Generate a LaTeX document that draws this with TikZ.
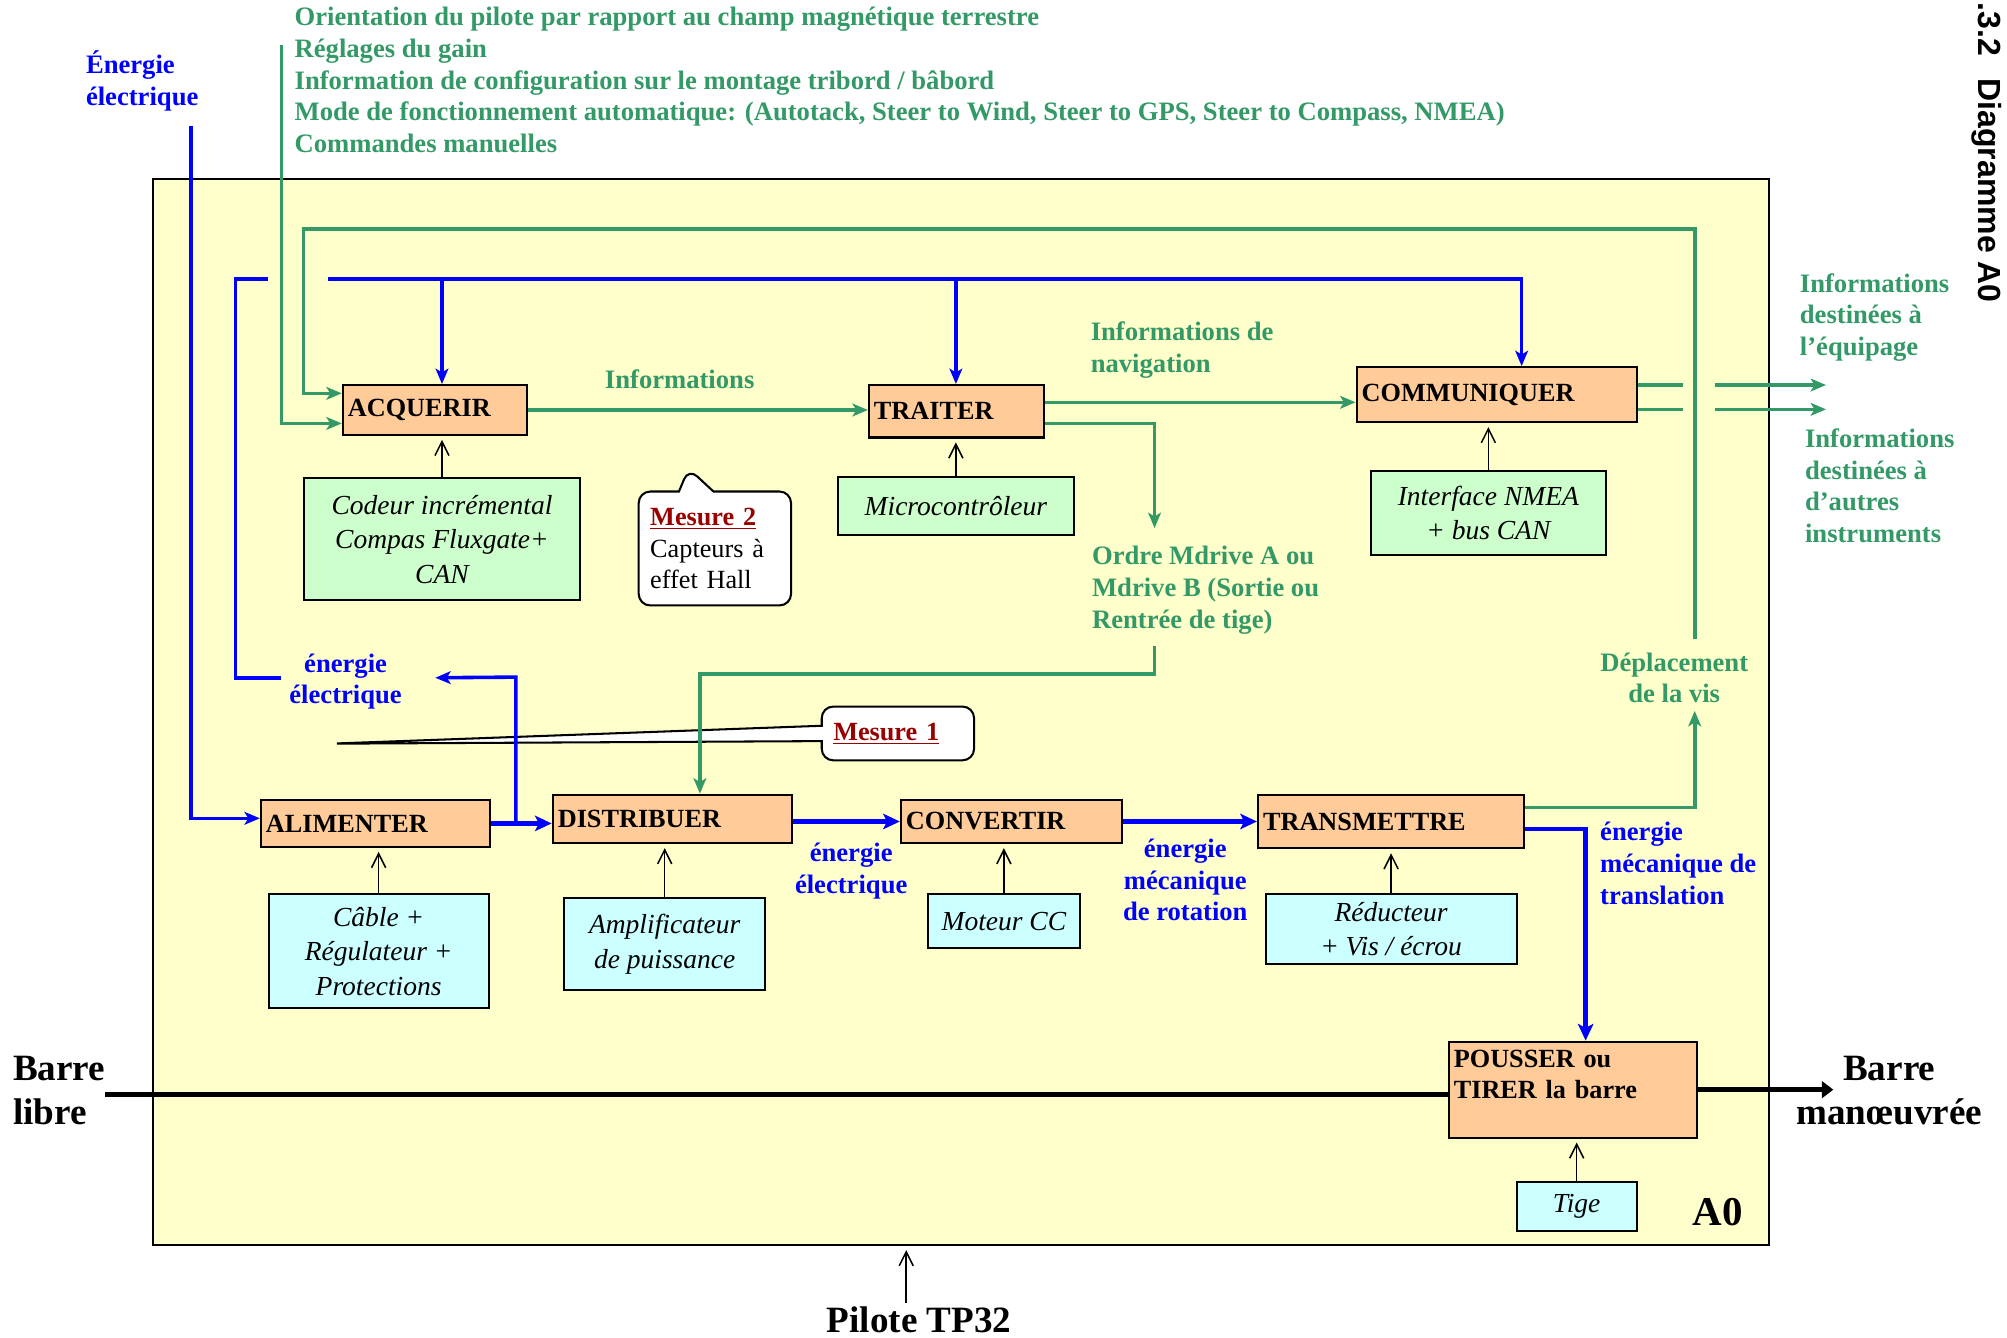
\documentclass[tikz,border=0pt]{standalone}
\usepackage{fontspec}
\setmainfont{Liberation Serif}
\setsansfont{Liberation Sans}
\usetikzlibrary{arrows.meta,shapes.callouts}

\definecolor{vertinfo}{RGB}{51,153,102}
\definecolor{peche}{RGB}{255,204,153}
\definecolor{vertpale}{RGB}{204,255,204}
\definecolor{cyanpale}{RGB}{204,255,255}
\definecolor{jaunepale}{RGB}{255,255,204}
\definecolor{rougefonce}{RGB}{153,0,0}

\begin{document}
\begin{tikzpicture}[x=1pt,y=-1pt,
  fonction/.style={draw,line width=1.6pt,fill=peche,anchor=north west,align=left,
    inner xsep=4pt,inner ysep=0pt,font=\fontsize{20.5}{24}\selectfont\bfseries},
  moyen/.style={draw,line width=1.6pt,anchor=north west,align=center,inner sep=0pt,
    font=\fontsize{21.5}{27}\selectfont\itshape},
  etiq/.style={align=left,inner sep=0pt,font=\fontsize{20.8}{24.75}\selectfont\bfseries},
  grand/.style={align=left,inner sep=0pt,font=\fontsize{29}{34}\selectfont\bfseries},
  info/.style={draw=vertinfo,line width=2.8pt,-{Stealth[length=12pt,width=10pt,inset=3pt]}},
  elec/.style={draw=blue,line width=2.8pt,-{Stealth[length=12pt,width=10pt,inset=3pt]}},
  puiss/.style={draw=blue,line width=3.5pt,-{Stealth[length=13pt,width=12pt,inset=3pt]}},
  support/.style={line width=1.2pt,-{Straight Barb[length=11pt,width=11pt]},shorten >=3pt},
  mesure/.style={rectangle callout,draw,line width=1.6pt,fill=white,rounded corners=9pt,
    align=left,font=\fontsize{20.5}{24.5}\selectfont}]

  \useasboundingbox (0,0) rectangle (1568,1045);

  \node[draw,line width=1.6pt,fill=jaunepale,anchor=north west,inner sep=0pt,
    minimum width=1262pt,minimum height=833pt] (a0) at (119,139) {};

  % entrees et sorties du diagramme
  \node[etiq,text=vertinfo,anchor=west] (cmd) at (230,62.5) {Orientation du pilote par rapport au champ magnétique terrestre\\Réglages du gain\\Information de configuration sur le montage tribord / bâbord\\Mode de fonctionnement automatique: (Autotack, Steer to Wind, Steer to GPS, Steer to Compass, NMEA)\\Commandes manuelles};
  \node[etiq,text=blue,anchor=west] (eel) at (67,63) {Énergie\\électrique};
  \node[etiq,text=vertinfo,anchor=west] (equip) at (1406,248) {Informations\\destinées à\\l’équipage};
  \node[etiq,text=vertinfo,anchor=west] (autres) at (1410,379.5) {Informations\\destinées à\\d’autres\\instruments};
  \node[grand,anchor=west] (libre) at (10,852) {Barre\\libre};
  \node[grand,align=center] (manoeuvre) at (1476,852) {Barre\\manœuvrée};
  \node[grand] (pilote) at (718,1031) {Pilote TP32};
  \node[font=\fontsize{32}{36}\selectfont\bfseries] (nom) at (1342,947) {A0};
  \node[rotate=-90,anchor=base west,inner sep=0pt,
    font=\sffamily\bfseries\fontsize{25}{30}\selectfont] (titre) at (1546,2) {.3.2\hspace{0.7em}Diagramme A0};

  % etiquettes des flux
  \node[etiq,text=vertinfo] (inf) at (531,296) {Informations};
  \node[etiq,text=vertinfo,anchor=west] (nav) at (852,273.5) {Informations de\\navigation};
  \node[etiq,text=vertinfo,anchor=west] (ordre) at (853,461) {Ordre Mdrive A ou\\Mdrive B (Sortie ou\\Rentrée de tige)};
  \node[etiq,text=vertinfo,align=center] (dep) at (1308,529.5) {Déplacement\\de la vis};
  \node[etiq,text=blue,align=center] (eel2) at (270,532.5) {énergie\\électrique};
  \node[etiq,text=blue,align=center] (eel3) at (665,680.5) {énergie\\électrique};
  \node[etiq,text=blue,align=center] (rot) at (926,687.5) {énergie\\mécanique\\de rotation};
  \node[etiq,text=blue,anchor=west] (trans) at (1250,674.5) {énergie\\mécanique de\\translation};

  % fonctions
  \node[fonction,text width=136pt,minimum height=39pt] (acq) at (267,300) {ACQUERIR};
  \node[fonction,text width=129pt,minimum height=41pt] (trt) at (678,300) {TRAITER};
  \node[fonction,text width=211pt,minimum height=43pt] (com) at (1059,286) {COMMUNIQUER};
  \node[fonction,text width=171pt,minimum height=37pt] (ali) at (203,624) {ALIMENTER};
  \node[fonction,text width=179pt,minimum height=38pt] (dis) at (431,620) {DISTRIBUER};
  \node[fonction,text width=165pt,minimum height=34pt] (cnv) at (703,624) {CONVERTIR};
  \node[fonction,text width=200pt,minimum height=42pt] (trm) at (982,620) {TRANSMETTRE};
  \node[fonction,text width=186pt,minimum height=75pt] (pou) at (1131,813) {POUSSER ou\\TIRER la barre\\\mbox{}};

  % supports
  \node[moyen,fill=vertpale,minimum width=215pt,minimum height=95pt] (codeur) at (237,373) {Codeur incrémental\\Compas Fluxgate+\\CAN};
  \node[moyen,fill=vertpale,minimum width=184pt,minimum height=45pt] (micro) at (654,372) {Microcontrôleur};
  \node[moyen,fill=vertpale,minimum width=184pt,minimum height=66pt] (nmea) at (1070,367) {Interface NMEA\\+ bus CAN};
  \node[moyen,fill=cyanpale,minimum width=172pt,minimum height=89pt] (cable) at (209,698) {Câble +\\Régulateur +\\Protections};
  \node[moyen,fill=cyanpale,minimum width=157pt,minimum height=72pt] (ampli) at (440,701) {Amplificateur\\de puissance};
  \node[moyen,fill=cyanpale,minimum width=119pt,minimum height=42pt] (moteur) at (724,698) {Moteur CC};
  \node[moyen,fill=cyanpale,minimum width=196pt,minimum height=54pt] (reduc) at (988,698) {Réducteur\\+ Vis / écrou};
  \node[moyen,fill=cyanpale,minimum width=94pt,minimum height=38pt] (tige) at (1184,923) {Tige};

  % mesures
  \node[mesure,callout absolute pointer={(538,366)},callout pointer width=27pt,
    text width=101pt,minimum width=119pt,minimum height=89pt] (m2) at (558.5,428.5)
    {\textbf{\textcolor{rougefonce}{\underline{Mesure 2}}}\\Capteurs à\\effet Hall};
  \node[mesure,callout absolute pointer={(258,581)},callout pointer width=12pt,
    text width=101pt,minimum width=119pt,minimum height=42pt] (m1) at (701.5,573)
    {\textbf{\textcolor{rougefonce}{\underline{Mesure 1}}}};

  \draw[support] (codeur.north) -- (codeur.north |- acq.south);
  \draw[support] (micro.north) -- (micro.north |- trt.south);
  \draw[support] (nmea.north) -- (nmea.north |- com.south);
  \draw[support] (cable.north) -- (cable.north |- ali.south);
  \draw[support] (ampli.north) -- (ampli.north |- dis.south);
  \draw[support] (moteur.north) -- (moteur.north |- cnv.south);
  \draw[support] (reduc.north) -- (reduc.north |- trm.south);
  \draw[support] (tige.north) -- (tige.north |- pou.south);
  \draw[support] ([xshift=-10pt,yshift=3pt]pilote.north) -- ([xshift=-10pt]pilote.north |- a0.south);

  % informations
  \draw[info] ([xshift=-10pt,yshift=-30pt]cmd.north west) |- ([yshift=-10.5pt]acq.west);
  \draw[info] ([xshift=16pt,yshift=10pt]dep.north) |- (237,179) |- ([yshift=13pt]acq.west);
  \draw[info] (acq.east) -- (acq.east -| trt.west);
  \draw[info] ([yshift=7pt]trt.east) -- ([yshift=7pt]trt.east -| com.west);
  \draw[info] ([yshift=-9.5pt]trt.east) -| ([xshift=49pt,yshift=14pt]ordre.north west);
  \draw[info] ([xshift=49pt,yshift=-9pt]ordre.south west) -- ++(0,22) -| ([xshift=21.5pt]dis.north);
  \draw[info] ([yshift=7.5pt]com.east) -- ++(35,0) ++(25,0) -- ++(87,0);
  \draw[info] ([yshift=-11.5pt]com.east) -- ++(35,0) ++(25,0) -- ++(87,0);
  \draw[info] ([yshift=11pt]trm.east) -| ([xshift=16pt,yshift=-6pt]dep.south);

  % energie
  \coordinate (bus) at (0,218);
  \draw[elec] ([xshift=-6pt,yshift=-12pt]eel.south east) |- ([yshift=4pt]ali.west);
  \draw[elec] ([xshift=-6pt,yshift=3pt]eel2.west) -| (184,218) -- (209,218) ++(47,0) -| ([xshift=19.5pt]com.north);
  \draw[elec] (codeur.north |- bus) -- (codeur.north |- acq.north);
  \draw[elec] (micro.north |- bus) -- (micro.north |- trt.north);
  \draw[elec] (ali.east) -| (403,529) -- ([xshift=26pt,yshift=3pt]eel2.east);
  \draw[puiss] (ali.east) -- (ali.east -| dis.west);
  \draw[puiss] (cnv.west -| dis.east) -- (cnv.west);
  \draw[puiss] (cnv.east) -- (cnv.east -| trm.west);
  \draw[puiss] ([yshift=-6pt]trm.east) -| ([xshift=10pt]pou.north);

  % barre
  \draw[line width=3.5pt] ([yshift=-3pt]libre.east) -- ([yshift=-3pt]libre.east -| pou.west);
  \draw[line width=3.5pt,-{Triangle[length=9pt,width=13pt]}] (pou.east) -- ([xshift=29pt]pou.east -| manoeuvre.west);

\end{tikzpicture}
\end{document}
